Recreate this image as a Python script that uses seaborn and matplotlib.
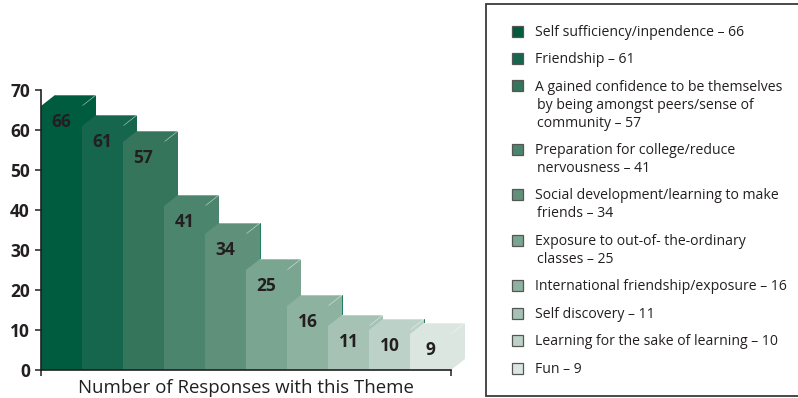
import matplotlib
matplotlib.use("Agg")
import matplotlib.pyplot as plt
from matplotlib.patches import Rectangle
import seaborn as sns

themes = ["Self sufficiency/inpendence", "Friendship",
          "A gained confidence to be themselves\n by being amongst peers/sense of\n community",
          "Preparation for college/reduce\n nervousness",
          "Social development/learning to make\n friends",
          "Exposure to out-of- the-ordinary\n classes",
          "International friendship/exposure", "Self discovery",
          "Learning for the sake of learning", "Fun"]
values = [66, 61, 57, 41, 34, 25, 16, 11, 10, 9]
colors = ["#005c3e", "#16664e", "#35755c", "#4c856e", "#5f917a",
          "#7aa591", "#8db2a0", "#a5c2b4", "#bcd2c8", "#dbe6e0"]
yticks = [0, 10, 20, 30, 40, 50, 60, 70]
xlabel = "Number of Responses with this Theme"

W, H = 798, 398
FONT = "Open Sans"
INK = "#231f20"
sns.set_style("white")
plt.rcParams["font.family"] = [FONT, "DejaVu Sans"]

fig = plt.figure(figsize=(W / 100, H / 100), dpi=100, facecolor="white")

# legend panel, in pixel coordinates
lg = fig.add_axes([0, 0, 1, 1], zorder=0)
lg.set_xlim(0, W); lg.set_ylim(H, 0); lg.axis("off")
lg.add_patch(Rectangle((486, 4), 330, 392, fc="white", ec="#3a3a3a", lw=1.3))
y = 31.0
for name, val, col in zip(themes, values, colors):
    lines = f"{name} – {val}".split("\n")
    lg.add_patch(Rectangle((511.5, y - 5.5), 11, 11, fc=col, ec="#555555", lw=0.9))
    for ln in lines:
        lg.text(535 + (2 if ln.startswith(" ") else 0), y + 1.2, ln.strip(), va="center", ha="left",
                fontsize=10.1, color=INK)
        y += 18
    y += 9.45

# bars
ax = fig.add_axes([41 / W, 1 - 370 / H, 410 / W, 280 / H], zorder=1)
ax.patch.set_alpha(0)
sns.barplot(x=list(range(len(values))), y=values, hue=list(range(len(values))),
            palette=colors, width=1.0, legend=False, saturation=1, ax=ax, linewidth=0)
ax.set_xlim(-0.5, len(values) - 0.5)
ax.set_ylim(0, 70)

DX = 14 / 41      # depth in category units
DY = 11 / 4       # depth in value units
for i, (v, col, bar) in enumerate(zip(values, colors, ax.patches)):
    z = 3 + 2 * i
    bar.set_zorder(z + 1)
    l, r = i - .5, i + .5
    ax.fill([r, r + DX, r + DX, r], [0, DY, v + DY, v], color=col, lw=0, zorder=z, clip_on=False)
    ax.fill([l, l + DX, r + DX, r], [v, v + DY, v + DY, v], color=col, lw=0, zorder=z, clip_on=False)
    ax.plot([r + DX * .1, r + DX], [v + DY * .1, v + DY], color="white", alpha=.35, lw=.6, zorder=z, clip_on=False)
    ax.plot([l + DX, r + DX], [v + DY, v + DY], color="white", alpha=.35, lw=.6, zorder=z, clip_on=False)
    if i in (4, 6, 8):
        ax.plot([r + DX, r + DX], [DY, v + DY], color="#1a7a5c", lw=.7, zorder=z, clip_on=False)
    ax.annotate(str(v), (i, v), xytext=(0, -11.5), textcoords="offset points", ha="center", va="center",
                fontsize=12.5, fontweight="bold", color=INK, zorder=40)

sns.despine(ax=ax)
for s in ("left", "bottom"):
    ax.spines[s].set_linewidth(1.2)
    ax.spines[s].set_color(INK)
    ax.spines[s].set_zorder(50)
ax.set_yticks(yticks)
ax.set_xticks([-0.5, len(values) - 0.5], ["", ""])
ax.tick_params(axis="both", length=4, width=1.1, color=INK, left=True, bottom=True)
ax.tick_params(axis="y", pad=4, labelsize=12.5, labelcolor=INK)
for t in ax.get_yticklabels():
    t.set_fontweight("bold")
ax.set_xlabel(xlabel, fontsize=13.4, color=INK, labelpad=0, va="baseline")
ax.xaxis.set_label_coords(.5, (370 - 393) / 280)
ax.set_ylabel("")

fig.savefig("out.png", dpi=100)
